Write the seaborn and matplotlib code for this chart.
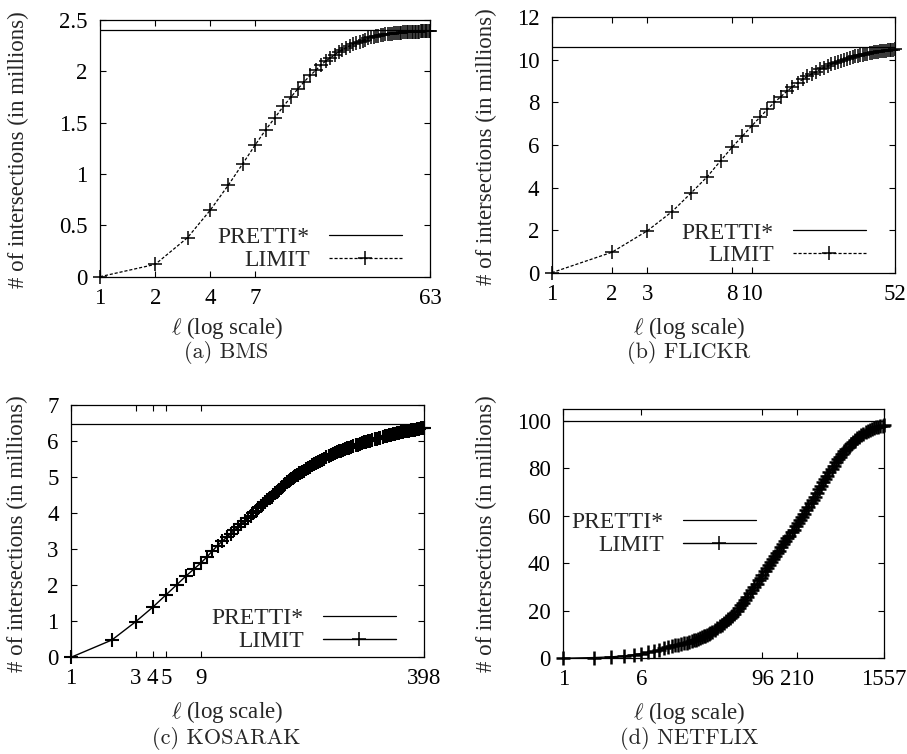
import matplotlib
matplotlib.use("Agg")
import matplotlib.pyplot as plt
from matplotlib.ticker import NullLocator, FixedLocator
import seaborn as sns
import pandas as pd

# ---------------- data ----------------
bms_l = list(range(1, 64))
bms_v = [0.00, 0.12, 0.38, 0.65, 0.89, 1.10, 1.28, 1.43, 1.55, 1.66,
         1.75, 1.83, 1.90, 1.96, 2.01, 2.06, 2.10, 2.13, 2.16, 2.19,
         2.21, 2.23, 2.25, 2.27, 2.28, 2.29, 2.30, 2.31, 2.32, 2.33,
         2.335, 2.34, 2.345, 2.35, 2.355, 2.36, 2.362, 2.365, 2.367, 2.37,
         2.372, 2.374, 2.376, 2.378, 2.38, 2.381, 2.382, 2.383, 2.384, 2.385,
         2.386, 2.387, 2.387, 2.388, 2.388, 2.389, 2.389, 2.39, 2.39, 2.39,
         2.391, 2.391, 2.392]
bms_pretti = 2.40
bms_xticks = [1, 2, 4, 7, 63]
bms_yticks = [0, 0.5, 1, 1.5, 2, 2.5]
bms_ytl = ["0", "0.5", "1", "1.5", "2", "2.5"]

flickr_l = list(range(1, 53))
flickr_v = [0.0, 0.96, 1.96, 2.87, 3.76, 4.51, 5.26, 5.90, 6.42, 6.89,
            7.30, 7.68, 8.00, 8.27, 8.52, 8.73, 8.92, 9.08, 9.22, 9.34,
            9.45, 9.55, 9.64, 9.72, 9.79, 9.85, 9.91, 9.96, 10.01, 10.05,
            10.09, 10.13, 10.16, 10.19, 10.22, 10.25, 10.27, 10.29, 10.31, 10.33,
            10.35, 10.37, 10.38, 10.40, 10.41, 10.43, 10.44, 10.45, 10.46, 10.47,
            10.48, 10.49]
flickr_pretti = 10.6
flickr_xticks = [1, 2, 3, 8, 10, 52]
flickr_yticks = [0, 2, 4, 6, 8, 10, 12]
flickr_ytl = ["0", "2", "4", "6", "8", "10", "12"]

kosarak_l = [1, 2, 3, 4, 5, 6, 7, 8, 9, 10, 11, 12, 13, 14, 15, 16, 17, 18, 19, 20,
             21, 22, 23, 24, 25, 26, 27, 28, 29, 30, 31, 32, 33, 34, 35, 36, 37, 38, 39, 40,
             41, 42, 43, 44, 45, 46, 47, 48, 49, 50, 52, 54, 56, 58, 60, 62, 64, 66, 68, 70,
             73, 76, 79, 82, 85, 88, 91, 94, 97, 100, 104, 108, 112, 116, 120, 125, 130, 135, 140, 145,
             150, 155, 160, 166, 172, 178, 184, 190, 197, 204, 211, 218, 226, 234, 242, 250, 259, 268, 277, 287,
             297, 307, 318, 329, 340, 352, 364, 377, 390, 398]
kosarak_v = [0.0, 0.48, 0.99, 1.39, 1.73, 2.01, 2.25, 2.44, 2.61, 2.78, 2.95, 3.10, 3.22, 3.33, 3.43, 3.53, 3.62, 3.70, 3.78, 3.86,
             3.93, 4.00, 4.07, 4.13, 4.19, 4.25, 4.30, 4.36, 4.41, 4.46, 4.51, 4.56, 4.60, 4.65, 4.69, 4.73, 4.77, 4.81, 4.85, 4.88,
             4.91, 4.94, 4.97, 5.00, 5.02, 5.05, 5.07, 5.10, 5.12, 5.14, 5.18, 5.22, 5.26, 5.29, 5.33, 5.36, 5.39, 5.42, 5.45, 5.47,
             5.51, 5.55, 5.58, 5.61, 5.64, 5.67, 5.69, 5.71, 5.73, 5.75, 5.78, 5.80, 5.82, 5.84, 5.86, 5.88, 5.90, 5.92, 5.94, 5.96,
             5.98, 5.99, 6.01, 6.03, 6.05, 6.06, 6.08, 6.09, 6.11, 6.13, 6.14, 6.16, 6.17, 6.19, 6.20, 6.21, 6.23, 6.24, 6.25, 6.27,
             6.28, 6.29, 6.30, 6.31, 6.32, 6.33, 6.34, 6.35, 6.36, 6.36]
kosarak_pretti = 6.47
kosarak_xticks = [1, 3, 4, 5, 9, 398]
kosarak_yticks = [0, 1, 2, 3, 4, 5, 6, 7]
kosarak_ytl = ["0", "1", "2", "3", "4", "5", "6", "7"]

netflix_l = [1, 2, 3, 4, 5, 6, 7, 8, 9, 10, 11, 12, 13, 14, 15, 16, 17, 18, 19, 20,
             21, 22, 23, 24, 25, 26, 27, 28, 29, 30, 32, 34, 36, 38, 40, 42, 44, 46, 48, 50,
             53, 56, 59, 62, 65, 68, 72, 76, 80, 84, 88, 92, 96, 101, 106, 111, 116, 122, 128, 134,
             140, 147, 154, 162, 170, 178, 187, 196, 206, 216, 227, 238, 250, 262, 275, 289, 303, 318, 334, 351,
             368, 386, 405, 425, 446, 468, 491, 516, 542, 569, 597, 627, 658, 691, 726, 762, 800, 840, 882, 926,
             972, 1020, 1071, 1125, 1181, 1240, 1302, 1367, 1435, 1507, 1557]
netflix_v = [0.0, 0.3, 0.6, 1.0, 1.5, 2.0, 2.5, 3.0, 3.6, 4.2, 4.7, 5.1, 5.4, 5.7, 6.0, 6.3, 6.6, 6.9, 7.2, 7.5,
             7.8, 8.2, 8.5, 8.9, 9.2, 9.6, 9.9, 10.3, 10.6, 11.0, 11.8, 12.6, 13.4, 14.2, 15.0, 15.7, 16.4, 17.1, 17.9, 18.7,
             19.9, 21.1, 22.3, 23.5, 24.7, 25.9, 27.4, 28.8, 30.2, 31.5, 32.8, 34.0, 35.2, 36.6, 37.9, 39.2, 40.4, 41.7, 43.0, 44.2,
             45.4, 46.7, 48.0, 49.3, 50.5, 51.7, 53.0, 54.2, 55.6, 56.9, 58.3, 59.6, 61.0, 62.4, 63.8, 65.3, 66.7, 68.1, 69.7, 71.2,
             72.7, 74.1, 75.5, 76.9, 78.3, 79.7, 81.1, 82.5, 83.8, 85.0, 86.1, 87.2, 88.2, 89.2, 90.1, 91.0, 91.8, 92.6, 93.3, 94.0,
             94.6, 95.2, 95.7, 96.2, 96.6, 97.0, 97.3, 97.6, 97.8, 98.0, 98.1]
netflix_pretti = 100.0
netflix_xticks = [1, 6, 96, 210, 1557]
netflix_yticks = [0, 20, 40, 60, 80, 100]
netflix_ytl = ["0", "20", "40", "60", "80", "100"]

captions = ["(a) BMS", "(b) FLICKR", "(c) KOSARAK", "(d) NETFLIX"]
series_names = ["PRETTI*", "LIMIT"]
xlabel = r"$\ell$ (log scale)"
ylabel = "# of intersections (in millions)"

# ---------------- style ----------------
sns.set_style("ticks")
plt.rcParams["font.family"] = ["Liberation Serif", "DejaVu Serif"]
plt.rcParams["mathtext.fontset"] = "cm"

W, H = 907, 754
fig = plt.figure(figsize=(W / 100, H / 100), dpi=100)


def fx(x):
    return x / W


def fy(y):
    return 1 - y / H


panels = [
    dict(l=bms_l, v=bms_v, p=bms_pretti, xt=bms_xticks, yt=bms_yticks, ytl=bms_ytl,
         ylim=(0, 2.5), box=(100, 20, 430, 276.7), dash=True, mew=1.1,
         leg=(402, 248.7), ylab=(18, 150), xlab=(227, 328), cap=(226, 353)),
    dict(l=flickr_l, v=flickr_v, p=flickr_pretti, xt=flickr_xticks, yt=flickr_yticks, ytl=flickr_ytl,
         ylim=(0, 12), box=(551.7, 17.3, 894.7, 272.7), dash=True, mew=1.1,
         leg=(865.7, 244.3), ylab=(486, 147), xlab=(689, 328), cap=(689, 353)),
    dict(l=kosarak_l, v=kosarak_v, p=kosarak_pretti, xt=kosarak_xticks, yt=kosarak_yticks, ytl=kosarak_ytl,
         ylim=(0, 7), box=(71, 405, 424, 657.3), dash=False, mew=1.5,
         leg=(396, 630), ylab=(17, 534), xlab=(227, 712), cap=(226, 738)),
    dict(l=netflix_l, v=netflix_v, p=netflix_pretti, xt=netflix_xticks, yt=netflix_yticks, ytl=netflix_ytl,
         ylim=(0, 104.9), box=(563.3, 409.3, 884, 658.3), dash=False, mew=1.8,
         leg=(755.7, 533.9), ylab=(486, 534), xlab=(689, 713), cap=(689, 738)),
]

FS = 16.5
for i, pn in enumerate(panels):
    l, t, r, b = pn["box"]
    ax = fig.add_axes([fx(l), fy(b), fx(r) - fx(l), fy(t) - fy(b)])
    ax.axhline(pn["p"], color="black", lw=0.9, label=series_names[0])
    df = pd.DataFrame({"ell": pn["l"], "val": pn["v"]})
    sns.lineplot(data=df, x="ell", y="val", ax=ax, color="black",
                 lw=0.9 if pn["dash"] else 1.0,
                 linestyle=(0, (2.5, 1.5)) if pn["dash"] else "-",
                 marker="+", markersize=10, markeredgewidth=pn["mew"],
                 markeredgecolor="black", clip_on=False,
                 label=series_names[1], legend=False)
    ax.set_xscale("log")
    ax.set_xlim(pn["l"][0], pn["l"][-1])
    ax.set_ylim(*pn["ylim"])
    ax.xaxis.set_major_locator(FixedLocator(pn["xt"]))
    ax.set_xticklabels([str(v) for v in pn["xt"]])
    ax.xaxis.set_minor_locator(NullLocator())
    ax.set_yticks(pn["yt"])
    ax.set_yticklabels(pn["ytl"])
    ax.tick_params(axis="both", which="major", direction="in", length=4.5, width=0.8,
                   top=True, right=True, labelsize=FS, colors="black")
    ax.tick_params(axis="x", pad=8)
    ax.tick_params(axis="y", pad=9)
    for s in ax.spines.values():
        s.set_linewidth(0.9)
        s.set_color("black")
    ax.set_xlabel("")
    ax.set_ylabel("")
    h, lab = ax.get_legend_handles_labels()
    leg = ax.legend(h[:2], lab[:2], loc="center right",
                    bbox_to_anchor=(fx(pn["leg"][0]), fy(pn["leg"][1])),
                    bbox_transform=fig.transFigure, markerfirst=False, frameon=False,
                    handlelength=3.1, handletextpad=0.8, labelspacing=0.05,
                    fontsize=FS + 0.5, borderpad=0, borderaxespad=0)
    for lh in leg.get_lines():
        lh.set_markeredgewidth(1.1)
    fig.text(fx(pn["ylab"][0]), fy(pn["ylab"][1]), ylabel, rotation=90,
             ha="center", va="center", fontsize=FS)
    fig.text(fx(pn["xlab"][0]), fy(pn["xlab"][1]), xlabel,
             ha="center", va="center", fontsize=FS)
    fig.text(fx(pn["cap"][0]), fy(pn["cap"][1]), captions[i],
             ha="center", va="center", fontsize=16, family="cmr10")

fig.savefig("out.png", dpi=100, facecolor="white")
